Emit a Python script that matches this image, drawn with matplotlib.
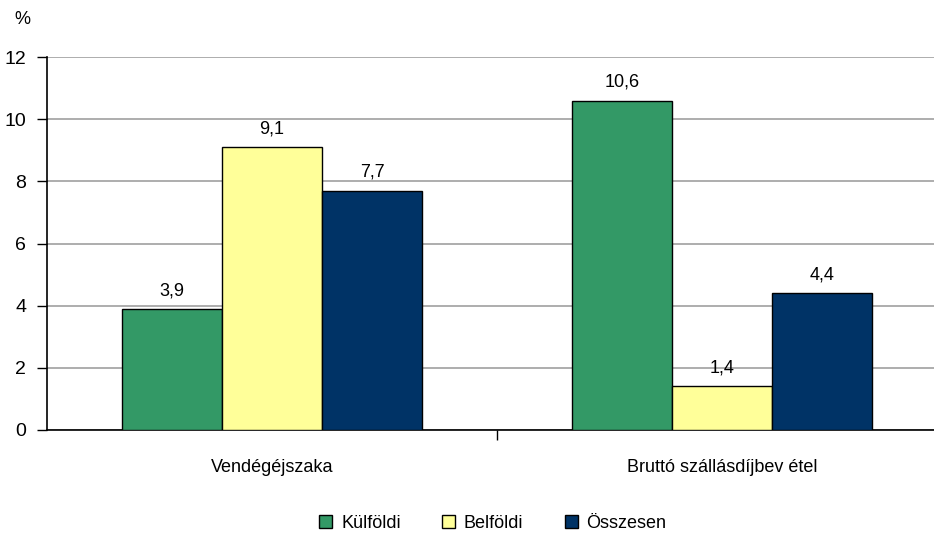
import numpy as np
import matplotlib.pyplot as plt
from matplotlib.patches import Patch

plt.rcParams['font.family'] = ['Liberation Sans', 'DejaVu Sans']

# Data
categories = ['Vendégéjszaka', 'Bruttó szállásdíjbev étel']
series     = ['Külföldi', 'Belföldi', 'Összesen']
values     = [[3.9, 10.6],     # Külföldi
              [9.1, 1.4],      # Belföldi
              [7.7, 4.4]]      # Összesen
colors     = ['#339966', '#FFFF99', '#003366']
yticks     = [0, 2, 4, 6, 8, 10, 12]

# Plotting
fig = plt.figure(figsize=(9.34, 5.34), dpi=100)
ax = fig.add_axes([47/934, 104/534, 900/934, 373/534])

x = np.arange(len(categories))
width = 100/450
for i, (name, vals) in enumerate(zip(series, values)):
    pos = x + (i - 1) * width
    ax.bar(pos, vals, width, color=colors[i], edgecolor='black', linewidth=1.0, zorder=3)
    for px, v in zip(pos, vals):
        ax.annotate(('%.1f' % v).replace('.', ','), (px, v), xytext=(0, 7),
                    textcoords='offset points', ha='center', va='bottom', fontsize=13)

ax.set_xlim(-0.5, 1.5)
ax.set_ylim(0, 12)
ax.set_yticks(yticks)
ax.set_yticklabels([str(t) for t in yticks], fontsize=14)
ax.set_xticks([0.5])
ax.set_xticklabels([])
ax.tick_params(axis='y', length=7, width=1, pad=8)
ax.tick_params(axis='x', length=7, width=1)
for c, lab in zip(x, categories):
    ax.text(c, -1.2, lab, ha='center', va='center', fontsize=13, transform=ax.transData)

ax.grid(axis='y', color='#a0a0a0', linewidth=1.2, zorder=0)
ax.spines['top'].set_visible(False)
ax.spines['right'].set_visible(False)
ax.spines['left'].set_linewidth(1.2)
ax.spines['bottom'].set_linewidth(1.2)

fig.text(22/934, 1 - 20/534, '%', ha='center', va='center', fontsize=13)

handles = [Patch(facecolor=c, edgecolor='black', label=s) for c, s in zip(colors, series)]
fig.legend(handles=handles, loc='center', bbox_to_anchor=(493/934, 1 - 523/534),
           ncol=3, frameon=False, fontsize=13, handlelength=0.7, handleheight=0.7,
           handletextpad=0.5, columnspacing=2.3)

plt.savefig('out.png', dpi=100)
